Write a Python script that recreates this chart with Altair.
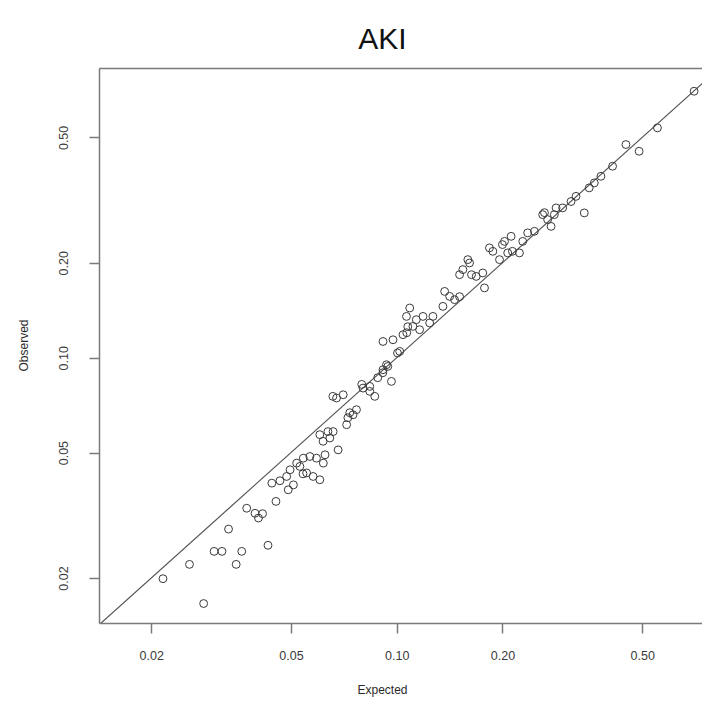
import altair as alt
import pandas as pd

# Calibration of predicted AKI risk: expected vs observed rate per group
expected = [
    0.0216, 0.0257, 0.0282, 0.0302, 0.0318, 0.0332, 0.0349, 0.0362, 0.0430, 0.0374,
    0.0395, 0.0404, 0.0415, 0.0453, 0.0441, 0.0465, 0.0491, 0.0508, 0.0486, 0.0530,
    0.0542, 0.0566, 0.0554, 0.0578, 0.0604, 0.0618, 0.0625, 0.0604, 0.0645, 0.0659,
    0.0681, 0.0720, 0.0751, 0.0768, 0.0704, 0.0674, 0.0802, 0.0838, 0.0866, 0.0914,
    0.0966, 0.0935, 0.1020, 0.0976, 0.1042, 0.0914, 0.7025, 0.5525, 0.4494, 0.4900,
    0.4117, 0.3815, 0.3652, 0.3532, 0.3420, 0.3240, 0.3135, 0.2968, 0.2810, 0.2690,
    0.2604, 0.2751, 0.2466, 0.2360, 0.2285, 0.2236, 0.2117, 0.2027, 0.2070, 0.1962,
    0.1878, 0.1837, 0.1758, 0.1778, 0.1684, 0.1612, 0.1594, 0.1543, 0.1510, 0.1415,
    0.1369, 0.1354, 0.1461, 0.1089, 0.1066, 0.1137, 0.1188, 0.1268, 0.1241, 0.1005,
    0.1112, 0.1162, 0.1075, 0.0943, 0.0913, 0.0883, 0.0838, 0.0795, 0.0658, 0.0735,
    0.0726, 0.0637, 0.0617, 0.1633, 0.1510, 0.1068, 0.2135, 0.2000, 0.2843, 0.2634,
    0.0519, 0.0497, 0.0541, 0.0591,
]
observed = [
    0.0199, 0.0221, 0.0166, 0.0243, 0.0243, 0.0286, 0.0221, 0.0243, 0.0254, 0.0333,
    0.0321, 0.0310, 0.0320, 0.0350, 0.0400, 0.0407, 0.0381, 0.0395, 0.0420, 0.0452,
    0.0480, 0.0486, 0.0431, 0.0420, 0.0410, 0.0463, 0.0492, 0.0570, 0.0556, 0.0583,
    0.0510, 0.0613, 0.0659, 0.0684, 0.0763, 0.0745, 0.0801, 0.0782, 0.0754, 0.0916,
    0.0841, 0.0950, 0.1047, 0.1140, 0.1183, 0.1126, 0.7005, 0.5360, 0.4745, 0.4518,
    0.4050, 0.3763, 0.3586, 0.3458, 0.2880, 0.3250, 0.3130, 0.2987, 0.2844, 0.2742,
    0.2844, 0.2610, 0.2518, 0.2489, 0.2339, 0.2150, 0.2427, 0.2339, 0.2150, 0.2047,
    0.2175, 0.2230, 0.1857, 0.1665, 0.1811, 0.1998, 0.2047, 0.1903, 0.1834, 0.1565,
    0.1623, 0.1455, 0.1528, 0.1438, 0.1352, 0.1320, 0.1352, 0.1352, 0.1289, 0.1035,
    0.1257, 0.1227, 0.1254, 0.0938, 0.0896, 0.0864, 0.0811, 0.0823, 0.0754, 0.0669,
    0.0645, 0.0583, 0.0543, 0.1834, 0.1562, 0.1200, 0.2175, 0.2285, 0.2987, 0.2885,
    0.0463, 0.0441, 0.0428, 0.0480,
]

tick_values = [0.02, 0.05, 0.1, 0.2, 0.5]
x_domain = [0.0142, 0.74]
y_domain = [0.0144, 0.83]
identity_ends = [0.01, 1.0]

FONT = "Liberation Sans"
FRAME = "#7a7a7a"
LABEL_COLOR = "#3a3a3a"

points_df = pd.DataFrame({"Expected": expected, "Observed": observed})
line_df = pd.DataFrame({"Expected": identity_ends, "Observed": identity_ends})

x_scale = alt.Scale(type="log", domain=x_domain, nice=False)
y_scale = alt.Scale(type="log", domain=y_domain, nice=False)

y_axis = alt.Axis(
    values=tick_values, format=".2f", title="Observed", grid=False,
    labelAngle=-90, labelAlign="center", labelBaseline="bottom", labelPadding=19,
    labelFont=FONT, labelFontSize=12.5, labelColor=LABEL_COLOR,
    tickSize=10, tickColor=FRAME, tickWidth=1.5,
    domainColor=FRAME, domainWidth=1.5,
    titleFont=FONT, titleFontSize=12, titleFontWeight="normal", titleColor="#2a2a2a",
    titleX=-76, titleY=277, titleBaseline="middle", titleAngle=-90,
)

x_axis = alt.Axis(
    values=tick_values, format=".2f", title="Expected", grid=False,
    labelPadding=16, labelFont=FONT, labelFontSize=12.5, labelColor=LABEL_COLOR,
    tickSize=10, tickColor=FRAME, tickWidth=1.5,
    domainColor=FRAME, domainWidth=1.5,
    titleFont=FONT, titleFontSize=12, titleFontWeight="normal", titleColor="#2a2a2a",
    titleX=283, titleY=66, titleBaseline="middle",
)

points = alt.Chart(points_df).mark_point(
    shape="circle", filled=False, size=62, color="#3a3a3a", strokeWidth=1, opacity=1
).encode(
    x=alt.X("Expected:Q", scale=x_scale, axis=x_axis),
    y=alt.Y("Observed:Q", scale=y_scale, axis=y_axis),
)

# Identity line, plus a bare top axis that closes the frame
identity = alt.Chart(line_df).mark_line(color="#555555", strokeWidth=1.2, clip=True).encode(
    x=alt.X("Expected:Q", scale=x_scale, axis=alt.Axis(
        orient="top", labels=False, ticks=False, grid=False, title="",
        domainColor=FRAME, domainWidth=1.5,
    )),
    y=alt.Y("Observed:Q", scale=y_scale, axis=y_axis),
)

chart = alt.layer(identity, points).resolve_axis(x="independent").properties(
    width=603,
    height=555,
    title=alt.TitleParams(
        "AKI", fontSize=30, fontWeight="normal", font=FONT, color="#111111",
        anchor="middle", frame="group", dx=-18, offset=13,
    ),
    autosize=alt.AutoSizeParams(type="none"),
    padding={"left": 99, "top": 68, "right": 0, "bottom": 87},
).configure_view(
    strokeWidth=0
).configure(background="white")

chart.save("out.html", embed_options={"renderer": "svg", "actions": False})
